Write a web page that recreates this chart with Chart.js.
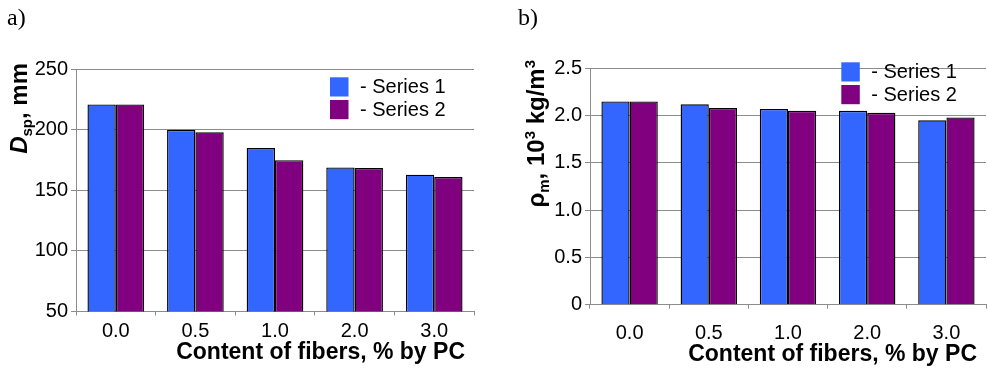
<!DOCTYPE html>
<html><head><meta charset="utf-8">
<script src="https://cdn.jsdelivr.net/npm/chart.js@4.4.1/dist/chart.umd.min.js"></script>
<style>
html,body{margin:0;padding:0;background:#fff;width:988px;height:369px;overflow:hidden}
.wrap{position:absolute;top:0;width:494px;height:369px}
canvas{display:block}
</style></head><body>
<div class="wrap" style="left:0"><canvas id="ca" width="494" height="369"></canvas></div>
<div class="wrap" style="left:494px"><canvas id="cb" width="494" height="369"></canvas></div>
<script>
// ---- data ----
const categories = ['0.0', '0.5', '1.0', '2.0', '3.0'];
const seriesNames = ['Series 1', 'Series 2'];
const spreadSeries1 = [221, 200, 185, 169, 163];
const spreadSeries2 = [221, 198, 175, 168.5, 161];
const densitySeries1 = [2.15, 2.12, 2.07, 2.05, 1.95];
const densitySeries2 = [2.15, 2.08, 2.05, 2.03, 1.98];
const xAxisTitle = 'Content of fibers, % by PC';

// ---- style ----
const SANS = "'Liberation Sans', Arial, sans-serif";
const SERIF = "'Liberation Serif', 'Times New Roman', serif";
const BLUE = '#3366FF';
const PURPLE = '#800080';
const GRID = '#8c8c8c';

function fontStr(style, size, fam) { return style + ' ' + size + 'px ' + fam; }

// rich text parts: [text, style, size, shift]
function partsWidth(ctx, parts) {
  let w = 0;
  for (const p of parts) { ctx.font = fontStr(p[1], p[2], SANS); w += ctx.measureText(p[0]).width; }
  return w;
}
function drawParts(ctx, parts, x, y) {
  for (const p of parts) {
    ctx.font = fontStr(p[1], p[2], SANS);
    ctx.fillText(p[0], x, y + p[3]);
    x += ctx.measureText(p[0]).width;
  }
}

const decorPlugin = {
  id: 'decor',
  afterDraw(chart, args, o) {
    const ctx = chart.ctx, ca = chart.chartArea;
    ctx.save();
    ctx.fillStyle = '#000';
    ctx.textBaseline = 'alphabetic';
    ctx.textAlign = 'left';
    // panel label
    ctx.font = fontStr('normal', 24, SERIF);
    ctx.fillText(o.panel, o.panelX, 25);
    // x title (right aligned)
    ctx.font = fontStr('bold', o.xTitleSize, SANS);
    ctx.textAlign = 'right';
    ctx.fillText(xAxisTitle, ca.right - o.xTitleRight, o.xTitleY);
    ctx.textAlign = 'left';
    // y title rotated
    const w = partsWidth(ctx, o.yParts);
    ctx.translate(o.yTitleX, o.yTitleTop + w);
    ctx.rotate(-Math.PI / 2);
    drawParts(ctx, o.yParts, 0, 0);
    ctx.restore();
    // legend
    ctx.save();
    const lx = ca.right - o.legendRight;
    chart.data.datasets.forEach((ds, i) => {
      const y = o.legendTop + i * 22.7;
      ctx.fillStyle = ds.backgroundColor;
      ctx.fillRect(lx, y, 18.5, 19.2);
      ctx.fillStyle = '#000';
      ctx.font = fontStr('normal', 20, SANS);
      ctx.textBaseline = 'middle';
      ctx.fillText('- ' + ds.label, lx + 30, y + 10.5);
    });
    ctx.restore();
  }
};

function makeChart(id, d1, d2, yMin, yMax, yStep, pad, yWidth, xHeight, xLabelPad, tickFmt, decor) {
  return new Chart(document.getElementById(id), {
    type: 'bar',
    data: {
      labels: categories,
      datasets: [
        { label: seriesNames[0], data: d1, backgroundColor: BLUE, borderColor: '#000', borderWidth: 1.4 },
        { label: seriesNames[1], data: d2, backgroundColor: PURPLE, borderColor: '#000', borderWidth: 1.4 }
      ]
    },
    options: {
      responsive: false,
      animation: false,
      events: [],
      layout: { padding: pad },
      datasets: { bar: { categoryPercentage: 0.712, barPercentage: 1.0 } },
      plugins: { legend: { display: false }, tooltip: { enabled: false }, decor: decor },
      scales: {
        x: {
          grid: { display: true, offset: true, drawOnChartArea: false, drawTicks: true, tickLength: 4, color: GRID },
          border: { display: true, color: GRID, width: 1 },
          ticks: { color: '#000', font: { family: SANS, size: 20 }, padding: xLabelPad, maxRotation: 0 },
          afterFit: (s) => { s.height = xHeight; }
        },
        y: {
          min: yMin, max: yMax,
          grid: { color: GRID, lineWidth: 1, drawTicks: true, tickLength: 5 },
          border: { display: true, color: GRID, width: 1 },
          ticks: { stepSize: yStep, color: '#000', font: { family: SANS, size: 20 }, padding: 3, callback: tickFmt },
          afterFit: (s) => { s.width = yWidth; }
        }
      }
    },
    plugins: [decorPlugin]
  });
}

makeChart('ca', spreadSeries1, spreadSeries2, 50, 250, 50,
  { top: 69.3, right: 20, bottom: 0, left: 0 }, 76, 57.5, 4,
  (v) => String(v),
  {
    panel: 'a)', panelX: 7,
    xTitleSize: 23, xTitleRight: 9, xTitleY: 359,
    yTitleX: 27, yTitleTop: 63,
    yParts: [['D', 'italic bold', 24, 0], ['sp', 'bold', 15, 5], [', mm', 'bold', 24, 0]],
    legendRight: 144, legendTop: 77.3
  });

makeChart('cb', densitySeries1, densitySeries2, 0, 2.5, 0.5,
  { top: 68.3, right: 2, bottom: 0, left: 0 }, 96, 64.3, 13,
  (v) => (v === 0 ? '0' : v.toFixed(1)),
  {
    panel: 'b)', panelX: 24,
    xTitleSize: 23, xTitleRight: 9, xTitleY: 361,
    yTitleX: 50, yTitleTop: 60,
    yParts: [['ρ', 'bold', 24, 0], ['m', 'bold', 15, 5], [', 10', 'bold', 24, 0], ['3', 'bold', 15, -9],
             [' kg/m', 'bold', 24, 0], ['3', 'bold', 15, -9]],
    legendRight: 144.7, legendTop: 62.3
  });
</script>
</body></html>
